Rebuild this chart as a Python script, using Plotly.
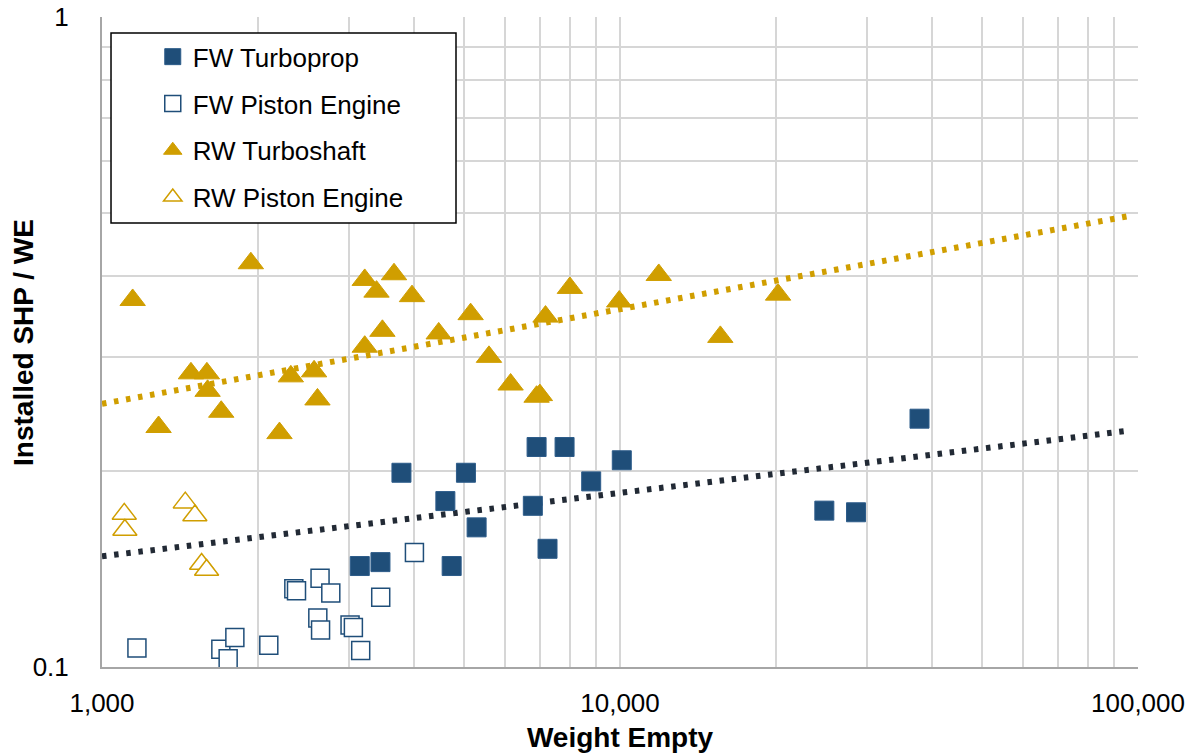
import plotly.graph_objects as go

# Empty weight (lb) and installed shaft horsepower per pound of empty weight
fw_turboprop_we = [3145, 3448, 3785, 4601, 5042, 5287, 4732, 6902, 7816, 6788,
                   7246, 8798, 10080, 37860, 24800, 28550]
fw_turboprop_ratio = [0.143, 0.145, 0.199, 0.180, 0.199, 0.164, 0.143, 0.218, 0.218, 0.177,
                      0.152, 0.193, 0.208, 0.241, 0.174, 0.173]

fw_piston_we = [1168, 1696, 1805, 1752, 2099, 2346, 2374, 2636, 2765, 2610,
                2642, 3012, 3057, 3158, 3452, 4010]
fw_piston_ratio = [0.107, 0.1065, 0.111, 0.103, 0.108, 0.132, 0.131, 0.137, 0.130, 0.119,
                   0.114, 0.116, 0.115, 0.106, 0.128, 0.150]

rw_turboshaft_we = [1146, 1938, 1286, 1485, 1594, 1599, 1699, 2201, 2315, 2567,
                    2606, 3215, 3215, 3388, 3478, 3662, 3967, 4467, 5148, 5585,
                    6149, 6902, 7003, 7181, 8003, 9965, 11880, 15620, 20190]
rw_turboshaft_ratio = [0.367, 0.418, 0.234, 0.283, 0.283, 0.266, 0.247, 0.229, 0.280, 0.285,
                       0.258, 0.394, 0.311, 0.378, 0.329, 0.402, 0.372, 0.326, 0.349, 0.300,
                       0.272, 0.2605, 0.262, 0.346, 0.383, 0.365, 0.401, 0.322, 0.374]

rw_piston_we = [1104, 1107, 1448, 1511, 1557, 1592]
rw_piston_ratio = [0.172, 0.1625, 0.179, 0.171, 0.144, 0.141]

# Power-law trendlines (straight on log-log axes): end points
fw_trend_we = [1000, 96000]
fw_trend_ratio = [0.148, 0.231]
rw_trend_we = [1000, 96000]
rw_trend_ratio = [0.254, 0.494]

# Axis ticks
x_tickvals = [1000, 2000, 3000, 4000, 5000, 6000, 7000, 8000, 9000,
              10000, 20000, 30000, 40000, 50000, 60000, 70000, 80000, 90000, 100000]
x_ticktext = ["1,000"] + [""] * 8 + ["10,000"] + [""] * 8 + ["100,000"]
y_tickvals = [0.1, 0.2, 0.3, 0.4, 0.5, 0.6, 0.7, 0.8, 0.9, 1.0]
y_ticktext = ["0.1"] + [""] * 8 + ["1"]

NAVY = "#1F4E79"
GOLD = "#D09E00"
DARK = "#222A35"
GRID = "#D6D6D6"
AXIS = "#A6A6A6"
FONT = "Liberation Sans, Arial, sans-serif"

fig = go.Figure()

fig.add_trace(go.Scatter(
    x=fw_trend_we, y=fw_trend_ratio, mode="lines", showlegend=False, hoverinfo="skip",
    line=dict(color=DARK, width=6, dash="4.5px,7.7px")))
fig.add_trace(go.Scatter(
    x=rw_trend_we, y=rw_trend_ratio, mode="lines", showlegend=False, hoverinfo="skip",
    line=dict(color=GOLD, width=6, dash="4.5px,7.7px")))

fig.add_trace(go.Scatter(
    x=fw_turboprop_we, y=fw_turboprop_ratio, mode="markers", name="FW Turboprop",
    legendgroup="a", cliponaxis=False,
    marker=dict(symbol="square", size=19, color=NAVY, line=dict(color="#2D5C8A", width=1))))
fig.add_trace(go.Scatter(
    x=fw_piston_we, y=fw_piston_ratio, mode="markers", name="FW Piston Engine",
    legendgroup="b", cliponaxis=False,
    marker=dict(symbol="square", size=18, color="white", line=dict(color=NAVY, width=1.5))))
fig.add_trace(go.Scatter(
    x=rw_turboshaft_we, y=rw_turboshaft_ratio, mode="markers", name="RW Turboshaft",
    legendgroup="c", cliponaxis=False,
    marker=dict(symbol="triangle-up", size=22, color=GOLD, line=dict(color=GOLD, width=1))))
fig.add_trace(go.Scatter(
    x=rw_piston_we, y=rw_piston_ratio, mode="markers", name="RW Piston Engine",
    legendgroup="d", cliponaxis=False,
    marker=dict(symbol="triangle-up", size=21, color="white", line=dict(color=GOLD, width=1.5))))

fig.update_layout(
    width=1203, height=755,
    margin=dict(l=102, r=65, t=17, b=88, autoexpand=False),
    paper_bgcolor="white", plot_bgcolor="white",
    font=dict(family=FONT, size=26, color="#000000"),
    showlegend=True,
    legend=dict(
        x=0.049, y=0.975, xanchor="left", yanchor="top",
        bgcolor="rgba(0,0,0,0)", borderwidth=0,
        tracegroupgap=10, font=dict(size=26, family=FONT, color="#000000")),
    shapes=[dict(type="rect", xref="paper", yref="paper",
                 x0=0.0087, x1=0.3417, y0=0.6831, y1=0.9754,
                 line=dict(color="#000000", width=1.5), fillcolor="white", layer="above")],
    annotations=[dict(text="<b>Installed SHP / WE</b>", xref="paper", yref="paper",
                      x=-0.0763, y=0.5, xanchor="center", yanchor="middle",
                      textangle=-90, showarrow=False,
                      font=dict(size=28, family=FONT, color="#000000"))],
)

fig.update_xaxes(
    type="log", range=[3, 5], automargin=False,
    tickvals=x_tickvals, ticktext=x_ticktext, tickangle=0,
    showgrid=True, gridcolor=GRID, gridwidth=1.5,
    showline=True, linecolor=AXIS, linewidth=2,
    ticks="", ticklabelstandoff=12,
    zeroline=False,
    title=dict(text="<b>Weight Empty</b>", font=dict(size=28, family=FONT), standoff=10))
fig.update_yaxes(
    type="log", range=[-1, 0], automargin=False,
    tickvals=y_tickvals, ticktext=y_ticktext,
    showgrid=True, gridcolor=GRID, gridwidth=1.5,
    showline=True, linecolor=AXIS, linewidth=2,
    ticks="", ticklabelstandoff=26,
    zeroline=False)

fig.write_html("out.html")
